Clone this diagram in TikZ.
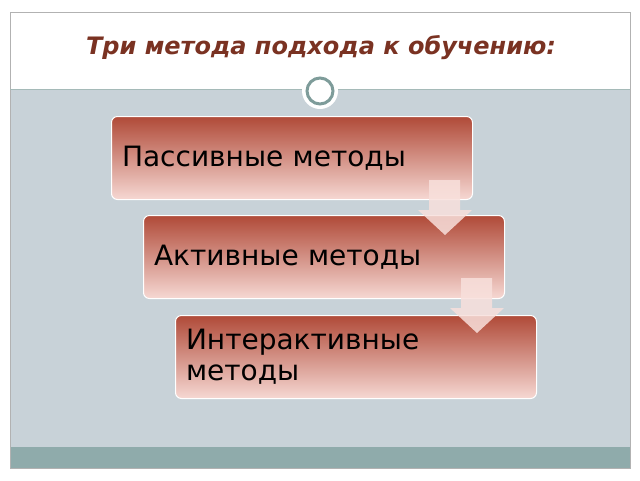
\documentclass[tikz,border=0pt]{standalone}
\usepackage{fontspec}
\setmainfont{DejaVu Sans}
\definecolor{boxtop}{HTML}{B04A38}
\definecolor{boxbot}{HTML}{F6D8D3}
\definecolor{bodybg}{HTML}{C8D2D8}
\definecolor{barbg}{HTML}{8FABAB}
\definecolor{ringc}{HTML}{7E9C9A}
\definecolor{titlec}{HTML}{7A3222}
\tikzset{
  method/.style={draw=white,line width=1pt,rounded corners=6pt,top color=boxtop,bottom color=boxbot,
    minimum width=361pt,minimum height=83pt,text width=340pt,align=left,anchor=north west,
    font=\fontsize{28}{31}\selectfont,inner sep=10pt},
  downarrow/.style={fill=boxbot!80!white,opacity=0.85}
}
\newcommand{\downarr}[2]{%
  \fill[downarrow] (#1-16,#2) -- (#1+15,#2) -- (#1+15,#2+30) -- (#1+27,#2+30)
    -- (#1,#2+55) -- (#1-27,#2+30) -- (#1-16,#2+30) -- cycle;}
\begin{document}
\begin{tikzpicture}[x=1pt,y=-1pt]
\useasboundingbox (0,0) rectangle (640,480);
\fill[white] (0,0) rectangle (640,480);
\fill[bodybg] (10,89) rectangle (630,447);
\fill[barbg] (10,447) rectangle (630,468);
\draw[gray!60] (10,12) rectangle (630,468);
\draw[ringc!70,line width=1pt] (10,89) -- (630,89);
\node[font=\fontsize{24}{26}\selectfont\bfseries\itshape,text=titlec] (title) at (321,48) {Три метода подхода к обучению:};
\node[circle,fill=white,minimum size=36pt] (halo) at (320,91) {};
\node[circle,draw=ringc,line width=3pt,fill=white,minimum size=26pt] (ring) at (320,91) {};
\node[method] (passive) at (111,116) {Пассивные методы};
\node[method] (active) at (143,215) {Активные методы};
\node[method] (inter) at (175,315) {Интерактивные\\методы};
\downarr{445}{180}
\downarr{477}{278}
\end{tikzpicture}
\end{document}
